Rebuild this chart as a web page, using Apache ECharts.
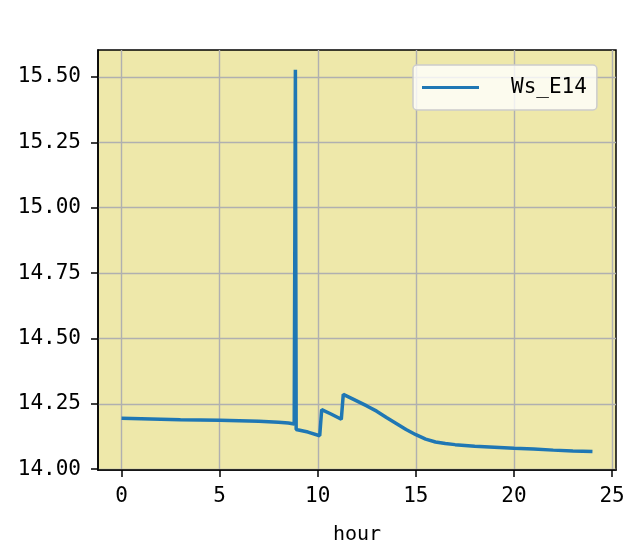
<!DOCTYPE html>
<html><head><meta charset="utf-8">
<script src="https://cdn.jsdelivr.net/npm/echarts@6/dist/echarts.min.js"></script>
<style>html,body{margin:0;padding:0;background:#fff}#c{width:640px;height:553px}</style>
</head><body><div id="c"></div>
<script>
const hours = [0, 1, 2, 3, 4, 5, 6, 7, 8, 8.5, 8.8, 8.84, 8.86, 8.9, 9.5, 10.1, 10.15, 10.2, 10.7, 11.2, 11.25, 11.3, 11.8, 12.5, 13, 13.5, 14, 14.5, 15, 15.5, 16, 16.5, 17, 18, 19, 20, 21, 22, 23, 24];
const wsE14 = [14.195, 14.193, 14.191, 14.189, 14.188, 14.187, 14.185, 14.183, 14.180, 14.177, 14.173, 14.172, 15.527, 14.152, 14.142, 14.128, 14.127, 14.228, 14.210, 14.191, 14.190, 14.286, 14.268, 14.242, 14.222, 14.198, 14.175, 14.152, 14.132, 14.115, 14.104, 14.098, 14.094, 14.088, 14.084, 14.080, 14.077, 14.073, 14.070, 14.068];
const xTicks = [0, 5, 10, 15, 20, 25];
const yTicks = [14.00, 14.25, 14.50, 14.75, 15.00, 15.25, 15.50];
const seriesName = 'Ws_E14';

const FONT = '"DejaVu Sans Mono", "Liberation Mono", monospace';
const chart = echarts.init(document.getElementById('c'), null, {renderer: 'canvas'});
chart.setOption({
  animation: false,
  backgroundColor: '#ffffff',
  grid: {left: 98, right: 24, top: 50, bottom: 83, show: true, backgroundColor: '#eee8aa', borderColor: '#000', borderWidth: 1.5},
  legend: {
    show: true, data: [seriesName], left: 413, top: 65,
    backgroundColor: 'rgba(255,255,255,0.8)', borderColor: '#cccccc', borderWidth: 1.5, borderRadius: 4,
    padding: [12, 10, 12, 9], itemWidth: 57, itemHeight: 3, itemGap: 5,
    icon: 'rect',
    textStyle: {fontFamily: FONT, fontSize: 21, color: '#000', padding: [0, 0, 0, 27]}
  },
  xAxis: {
    type: 'value', min: -1.2, max: 25.2,
    name: 'hour', nameLocation: 'middle', nameGap: 55,
    nameTextStyle: {fontFamily: FONT, fontSize: 20, color: '#000'},
    axisLine: {show: true, onZero: false, lineStyle: {color: '#000', width: 1.5}},
    axisTick: {show: true, length: 7, lineStyle: {color: '#000', width: 1.5}, customValues: xTicks},
    axisLabel: {fontFamily: FONT, fontSize: 21, color: '#000', margin: 16, customValues: xTicks},
    splitLine: {show: true, lineStyle: {color: '#b0b0b0', width: 1.4}}
  },
  yAxis: {
    type: 'value', min: 13.997, max: 15.603,
    axisLine: {show: true, onZero: false, lineStyle: {color: '#000', width: 1.5}},
    axisTick: {show: true, length: 7, lineStyle: {color: '#000', width: 1.5}, customValues: yTicks},
    axisLabel: {fontFamily: FONT, fontSize: 21, color: '#000', margin: 17, customValues: yTicks, formatter: v => v.toFixed(2)},
    splitLine: {show: true, lineStyle: {color: '#b0b0b0', width: 1.4}}
  },
  series: [{
    name: seriesName, type: 'line', showSymbol: false, symbol: 'none',
    data: hours.map((h, i) => [h, wsE14[i]]),
    lineStyle: {color: '#1f77b4', width: 3.5}, itemStyle: {color: '#1f77b4'}
  }]
});
</script></body></html>
